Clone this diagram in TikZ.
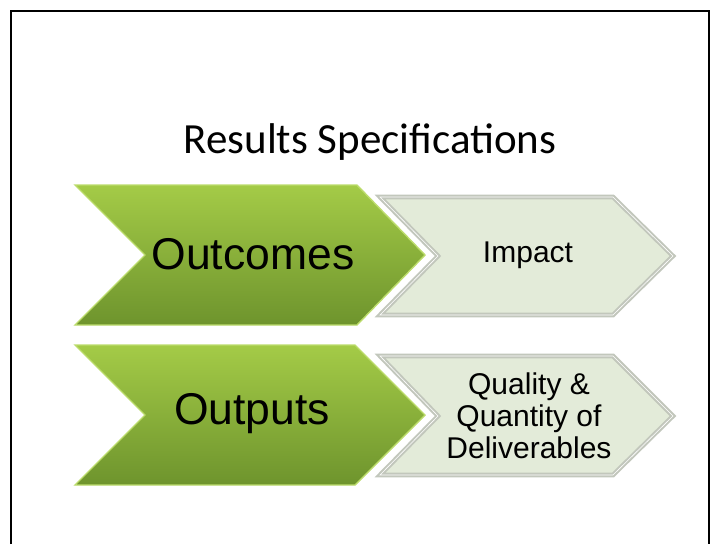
\documentclass[tikz,border=0pt]{standalone}
\usepackage{fontspec}
\setmainfont{Liberation Sans}
\newfontfamily\titlefont{Carlito}
\usepackage{tikz}

\definecolor{grtop}{HTML}{A4CB47}
\definecolor{grbot}{HTML}{6E942D}
\definecolor{grline}{HTML}{BCDC6C}
\definecolor{palefill}{HTML}{E3EBD9}
\definecolor{paleline}{HTML}{C2C7BC}

\tikzset{
  greenarrow/.style={top color=grtop, bottom color=grbot, draw=grline, line width=1.4pt, line join=miter},
  palearrow/.style={fill=palefill, draw=paleline, line width=2pt, double=white, double distance=0.6pt, line join=miter},
  bigtext/.style={font=\fontsize{44.5}{50}\selectfont, inner sep=0pt},
  smalltext/.style={font=\fontsize{30}{32}\selectfont, align=center, inner sep=0pt}
}

\begin{document}
\begin{tikzpicture}[x=1pt, y=-1pt]
			\useasboundingbox (0,0) rectangle (720,544);
			\draw[line width=2pt] (11,544)--(11,11)--(709,11)--(709,544);
			\node[font=\titlefont\fontsize{43}{50}\selectfont] (title) at (370,142){Results Specifications};
			%%%%%%%%%%%%%%%%%%%%%%%%%%%%%%%%
			\path[palearrow] (380,197)--(613,197)--(673,256)--(613,315)--(380,315)--(438,256)--cycle;
			\path[greenarrow] (75,185)--(357,185)--(425,255)--(357,325)--(75,325)--(145,255)--cycle;
			\node[bigtext] (outcomes) at (253,254){Outcomes};
			\node[smalltext] (impact) at (528,255){Impact};
			%%%%%%%%%%%%%%%%%%%%%%%%%%%%%
			\path[palearrow] (380,356)--(613,356)--(673,416)--(613,475)--(380,475)--(438,416)--cycle;
			\path[greenarrow] (75,345)--(355,345)--(425,415)--(355,485)--(75,485)--(145,415)--cycle;
			\node[bigtext] (outputs) at (252,414){Outputs};
			\node[smalltext] (deliver) at (529,416){Quality \&\\Quantity of\\Deliverables};
		\end{tikzpicture}
\end{document}
